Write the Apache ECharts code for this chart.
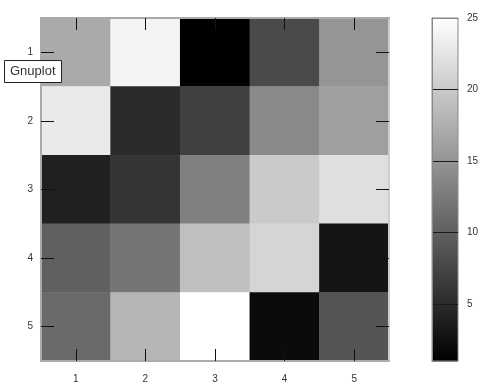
<!DOCTYPE html>
<html>
<head>
<meta charset="utf-8">
<script src="https://cdn.jsdelivr.net/npm/echarts@6/dist/echarts.min.js"></script>
<style>html,body{margin:0;padding:0;background:#fff}#c{width:493px;height:386px}</style>
</head>
<body>
<div id="c"></div>
<script>
const xCategories = ['1', '2', '3', '4', '5'];
const yCategories = ['1', '2', '3', '4', '5'];
// rows (y = 1..5), columns (x = 1..5)
const row1 = [17, 24, 1, 8, 15];
const row2 = [23, 5, 7, 14, 16];
const row3 = [4, 6, 13, 20, 22];
const row4 = [10, 12, 19, 21, 3];
const row5 = [11, 18, 25, 2, 9];
const colorbarTicks = [5, 10, 15, 20, 25];
const valueMin = 1;
const valueMax = 25;

const rows = [row1, row2, row3, row4, row5];
const data = [];
rows.forEach((r, yi) => r.forEach((v, xi) => data.push([xi, yi, v])));

const font = 'Liberation Sans, Arial, sans-serif';
const chart = echarts.init(document.getElementById('c'));
const tickStyle = { color: '#111', width: 1 };
const borderLine = { show: true, lineStyle: { color: '#aaa', width: 2 } };
const barBorder = { show: true, lineStyle: { color: '#888', width: 1 } };

chart.setOption({
  animation: false,
  textStyle: { fontFamily: font },
  title: {
    text: 'Gnuplot', left: 4, top: 60, z: 30, zlevel: 1,
    borderColor: '#222', borderWidth: 1, backgroundColor: '#fff',
    padding: [5, 6],
    textStyle: { fontSize: 13, fontWeight: 'normal', color: '#333', fontFamily: font }
  },
  grid: [
    { left: 41, top: 18, width: 348, height: 343 },
    { left: 432, top: 18, width: 26, height: 343 }
  ],
  xAxis: [
    { type: 'category', data: xCategories, gridIndex: 0, position: 'bottom',
      axisLine: borderLine,
      axisTick: { show: true, inside: true, length: 12, alignWithLabel: true, lineStyle: tickStyle },
      axisLabel: { fontSize: 10, color: '#333', margin: 13 },
      splitLine: { show: false }, z: 10 },
    { type: 'category', data: xCategories, gridIndex: 0, position: 'top',
      axisLine: borderLine,
      axisTick: { show: true, inside: true, length: 12, alignWithLabel: true, lineStyle: tickStyle },
      axisLabel: { show: false }, splitLine: { show: false }, z: 10 },
    { type: 'value', gridIndex: 1, min: 0, max: 1, position: 'bottom',
      axisLine: barBorder,
      axisTick: { show: false }, axisLabel: { show: false }, splitLine: { show: false }, z: 10 },
    { type: 'value', gridIndex: 1, min: 0, max: 1, position: 'top',
      axisLine: barBorder,
      axisTick: { show: false }, axisLabel: { show: false }, splitLine: { show: false }, z: 10 }
  ],
  yAxis: [
    { type: 'category', data: yCategories, inverse: true, gridIndex: 0, position: 'left',
      axisLine: borderLine,
      axisTick: { show: true, inside: true, length: 13, alignWithLabel: true, lineStyle: tickStyle },
      axisLabel: { fontSize: 10, color: '#333', margin: 8 },
      splitLine: { show: false }, z: 10 },
    { type: 'category', data: yCategories, inverse: true, gridIndex: 0, position: 'right',
      axisLine: { show: true, lineStyle: { color: '#ccc', width: 2 } },
      axisTick: { show: true, inside: true, length: 13, alignWithLabel: true, lineStyle: tickStyle },
      axisLabel: { show: false }, splitLine: { show: false }, z: 10 },
    { type: 'value', gridIndex: 1, min: valueMin, max: valueMax, position: 'right',
      axisLine: barBorder,
      axisTick: { show: false },
      axisLabel: { fontSize: 10, color: '#333', margin: 9, customValues: colorbarTicks },
      splitLine: { show: false }, z: 10 },
    { type: 'value', gridIndex: 1, min: valueMin, max: valueMax, position: 'left',
      axisLine: barBorder,
      axisTick: { show: false },
      axisLabel: { show: false },
      splitLine: { show: false }, z: 10 }
  ],
  visualMap: {
    show: false,
    type: 'continuous', min: valueMin, max: valueMax, seriesIndex: 0,
    inRange: { color: ['#000000', '#ffffff'] }
  },
  series: [{
    type: 'heatmap', xAxisIndex: 0, yAxisIndex: 0, data: data,
    itemStyle: { borderWidth: 0 },
    emphasis: { disabled: true }
  }, {
    // colour bar drawn through the colorbar axes, from valueMin to valueMax
    type: 'custom', xAxisIndex: 2, yAxisIndex: 2, z: 5, silent: true,
    data: [[0, valueMin, valueMax]],
    renderItem: function (params, api) {
      const top = api.coord([0, api.value(2)]);
      const bottom = api.coord([1, api.value(1)]);
      return {
        type: 'rect',
        shape: { x: top[0], y: top[1], width: bottom[0] - top[0], height: bottom[1] - top[1] },
        style: {
          fill: new echarts.graphic.LinearGradient(0, 0, 0, 1, [
            { offset: 0, color: '#ffffff' },
            { offset: 1, color: '#000000' }
          ]),
          stroke: '#888', lineWidth: 1
        }
      };
    }
  }, {
    // colour bar ticks
    type: 'custom', xAxisIndex: 2, yAxisIndex: 2, z: 8, silent: true,
    data: colorbarTicks.map(v => [0, v]),
    renderItem: function (params, api) {
      const a = api.coord([0, api.value(1)]);
      const b = api.coord([1, api.value(1)]);
      const y = Math.round(a[1]) + 0.5;
      return {
        type: 'line',
        shape: { x1: a[0], y1: y, x2: b[0], y2: y },
        style: { stroke: '#1a1a1a', lineWidth: 1 }
      };
    }
  }]
});
</script>
</body>
</html>
